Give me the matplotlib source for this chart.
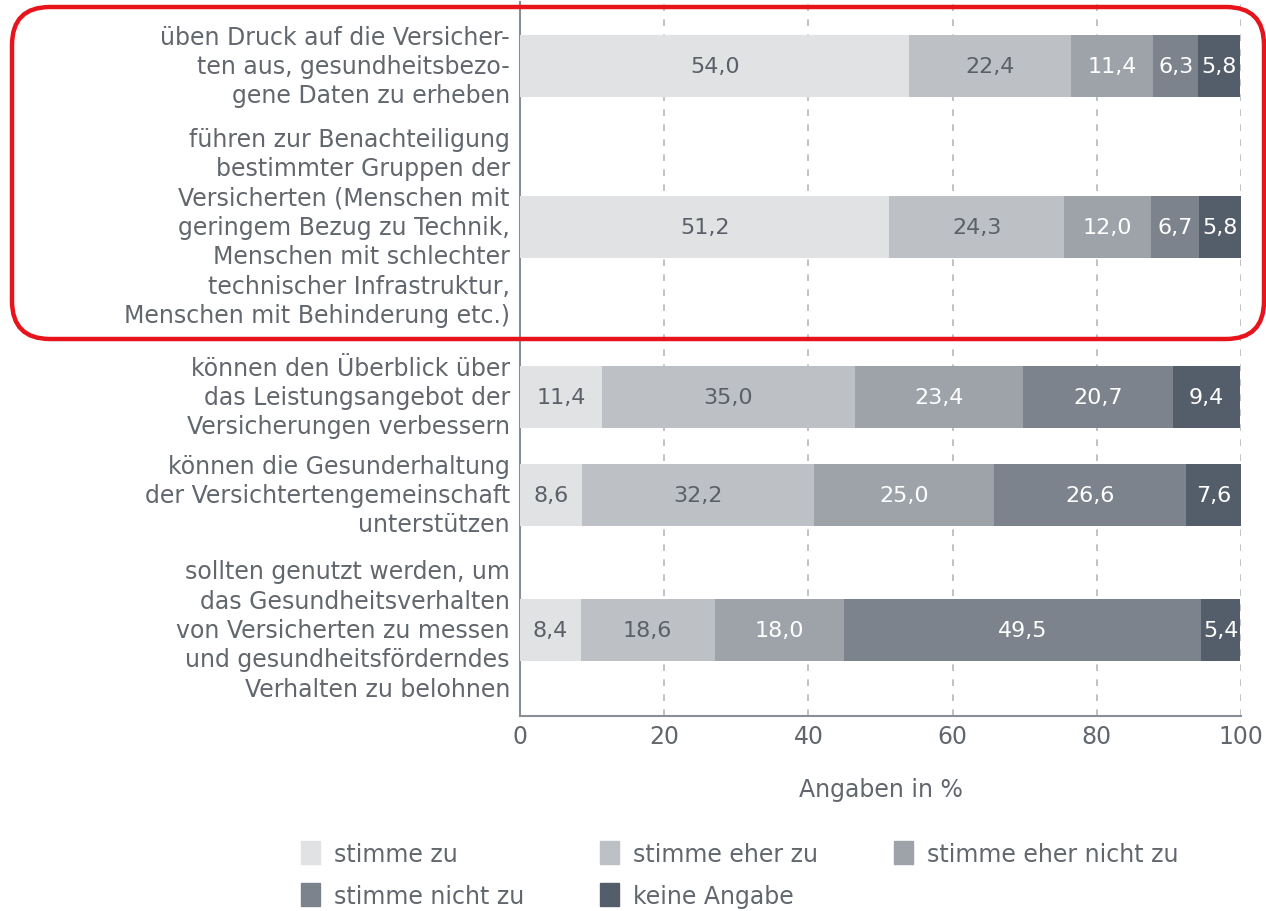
import numpy as np
import matplotlib
matplotlib.use('Agg')
import matplotlib.pyplot as plt
from matplotlib.patches import FancyBboxPatch, Patch
from matplotlib.transforms import IdentityTransform

plt.rcParams['font.family'] = ['DejaVu Sans']

#data (percent per answer)
labels = [
    'üben Druck auf die Versicher-\nten aus, gesundheitsbezo-\ngene Daten zu erheben',
    'führen zur Benachteiligung\nbestimmter Gruppen der\nVersicherten (Menschen mit\ngeringem Bezug zu Technik,\nMenschen mit schlechter\ntechnischer Infrastruktur,\nMenschen mit Behinderung etc.)',
    'können den Überblick über\ndas Leistungsangebot der\nVersicherungen verbessern',
    'können die Gesunderhaltung\nder Versichtertengemeinschaft\nunterstützen',
    'sollten genutzt werden, um\ndas Gesundheitsverhalten\nvon Versicherten zu messen\nund gesundheitsförderndes\nVerhalten zu belohnen',
]
categories = ['stimme zu', 'stimme eher zu', 'stimme eher nicht zu', 'stimme nicht zu', 'keine Angabe']
stimme_zu = [54.0, 51.2, 11.4, 8.6, 8.4]
eher_zu = [22.4, 24.3, 35.0, 32.2, 18.6]
eher_nicht_zu = [11.4, 12.0, 23.4, 25.0, 18.0]
nicht_zu = [6.3, 6.7, 20.7, 26.6, 49.5]
keine_angabe = [5.8, 5.8, 9.4, 7.6, 5.4]
x_ticks = [0, 20, 40, 60, 80, 100]

#layout: bar centres in pixel rows of the figure (slots differ because labels differ)
bar_pos = [67, 228, 398, 496, 631]
colors = ['#e1e2e4', '#bdc1c6', '#9ea3aa', '#7c838c', '#545e6a']
text_colors = ['#5b6068', '#5b6068', 'white', 'white', 'white']
grey = '#62676e'

fig = plt.figure(figsize=(12.66, 9.12), dpi=100)
ax = fig.add_axes([520/1266, 1-717/912, 721/1266, 714/912])

series = [stimme_zu, eher_zu, eher_nicht_zu, nicht_zu, keine_angabe]
left = np.zeros(len(labels))
for vals, c, tc in zip(series, colors, text_colors):
    vals = np.array(vals)
    ax.barh(bar_pos, vals, left=left, height=62, color=c, zorder=3)
    for y, l, v in zip(bar_pos, left, vals):
        ax.text(l+v/2, y, ('%.1f' % v).replace('.', ','), ha='center', va='center',
                color=tc, fontsize=16, zorder=4)
    left += vals

ax.set_xlim(0, 100)
ax.set_ylim(717, 3)
ax.set_yticks([])
ax.set_xticks(x_ticks)
ax.tick_params(axis='x', length=0, labelsize=17, labelcolor=grey, pad=6)
ax.grid(axis='x', ls=(0, (4, 5)), color='#b5b8bc', lw=1.2, zorder=0)
for s in ['top', 'right']:
    ax.spines[s].set_visible(False)
for s in ['left', 'bottom']:
    ax.spines[s].set_color('#8a8f96')
    ax.spines[s].set_linewidth(1.5)
ax.set_xlabel('Angaben in %', fontsize=17, color=grey, labelpad=21)

#category labels on the left, right aligned
for y, lab in zip(bar_pos, labels):
    ax.text(-1.4, y, lab, ha='right', va='center', fontsize=17, color=grey,
            linespacing=1.28, transform=ax.transData, clip_on=False)

#legend, filled row by row
handles = [Patch(color=c, label=n) for c, n in zip(colors, categories)]
order = [0, 3, 1, 4, 2]
fig.legend([handles[i] for i in order], [categories[i] for i in order], ncol=3,
           loc='upper left', bbox_to_anchor=(280/1266, 1-821/912), frameon=False,
           fontsize=17, labelcolor=grey, handlelength=0.8, handleheight=1.1,
           handletextpad=0.6, columnspacing=3.2, labelspacing=0.75)

#red highlight frame round the first two statements (pixel coordinates)
frame = FancyBboxPatch((12, 912-340), 1252, 332,
                       boxstyle='round,pad=0,rounding_size=38', transform=IdentityTransform(),
                       fill=False, edgecolor='#e8141b', lw=3.2, clip_on=False)
fig.patches.append(frame)

fig.savefig('out.png', dpi=100)
